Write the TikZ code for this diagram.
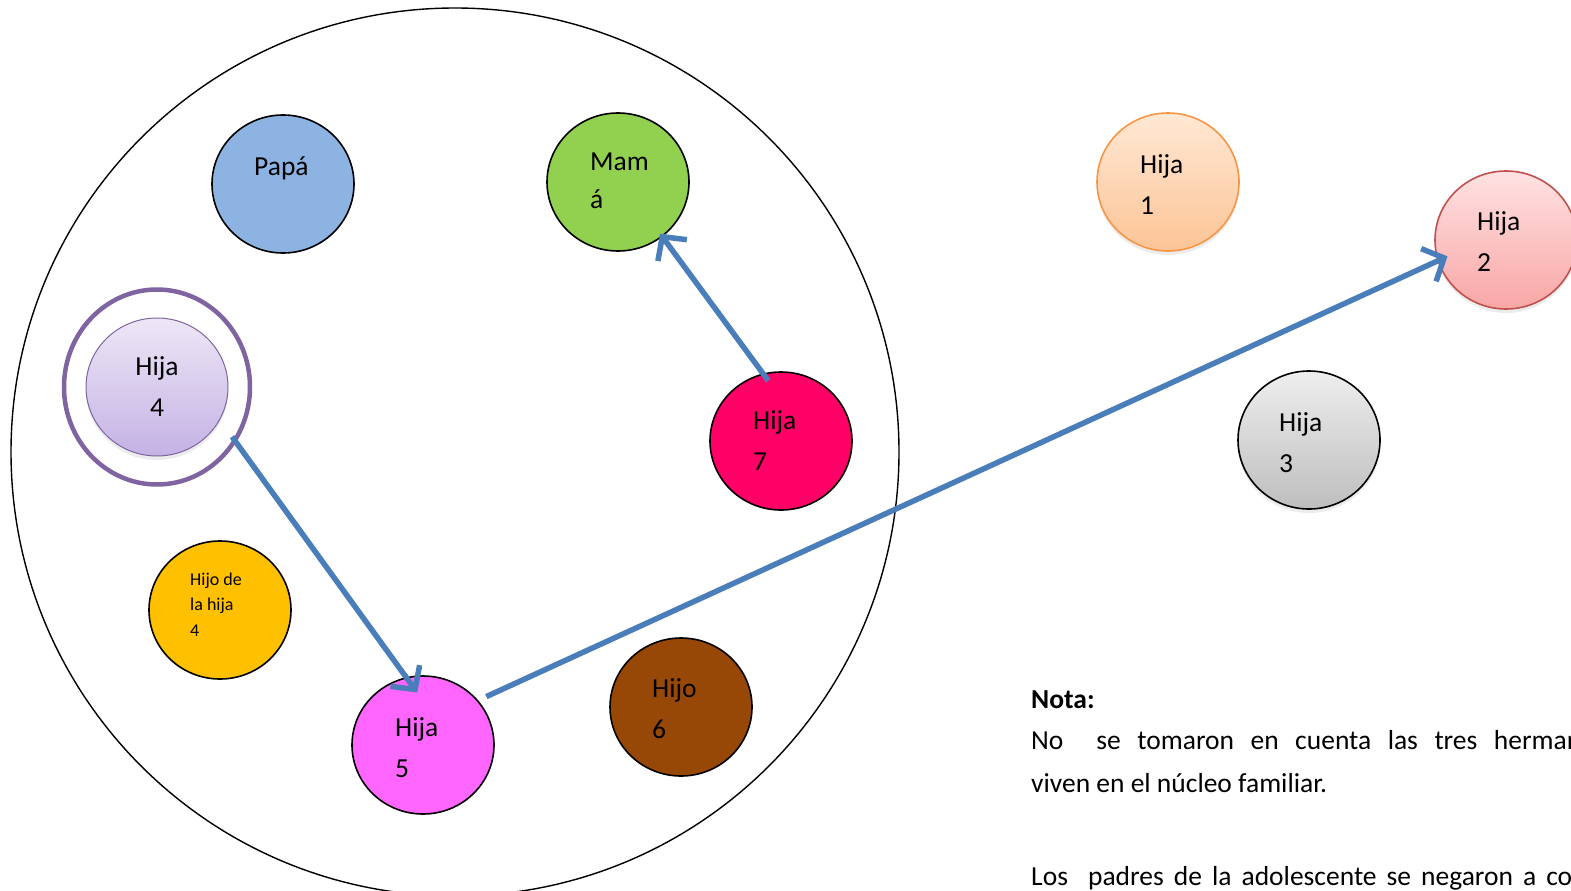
\documentclass[tikz,border=0pt]{standalone}
\usepackage{fontspec}
\setmainfont{Carlito}
\usetikzlibrary{shapes.geometric,arrows.meta,shadows}
\tikzset{
  person/.style={
    ellipse,
    draw=black,
    line width=1.6pt,
    minimum width=142pt,
    minimum height=138pt,
    inner sep=0pt
  },
  person-soft/.style={
    person,
    drop shadow={shadow xshift=0pt,shadow yshift=-4pt,opacity=0.15}
  },
  tag/.style={
    anchor=base west,
    inner sep=0pt,
    align=left,
    font=\fontsize{27.5}{41}\selectfont
  },
  tag-small/.style={
    tag,
    font=\fontsize{18}{25.5}\selectfont
  },
  link/.style={
    draw=linkblue,
    line width=5.5pt,
    -{Straight Barb[length=17pt,width=36pt]}
  }
}
\definecolor{linkblue}{RGB}{74,126,187}
\definecolor{papablue}{RGB}{141,179,226}
\definecolor{mamagreen}{RGB}{146,208,80}
\definecolor{rose}{RGB}{255,0,102}
\definecolor{amber}{RGB}{255,192,0}
\definecolor{magenta}{RGB}{255,102,255}
\definecolor{brown}{RGB}{152,72,6}
\definecolor{lilac}{RGB}{128,100,162}
\definecolor{lilac-top}{RGB}{237,231,246}
\definecolor{lilac-bot}{RGB}{196,178,228}
\definecolor{peach}{RGB}{247,150,70}
\definecolor{peach-top}{RGB}{255,232,212}
\definecolor{peach-bot}{RGB}{252,196,150}
\definecolor{coral}{RGB}{192,80,77}
\definecolor{coral-top}{RGB}{255,226,226}
\definecolor{coral-bot}{RGB}{249,166,166}
\definecolor{grey-top}{RGB}{238,238,238}
\definecolor{grey-bot}{RGB}{190,190,190}

\begin{document}
\begin{tikzpicture}[x=1pt,y=-1pt]
  \useasboundingbox (0,0) rectangle (1571,891);
  % --- household circle ---
  \node[circle, draw=black, line width=1.4pt, minimum size=888pt, inner sep=0pt] (nucleo) at (455,452) {};

  % --- members living at home ---
  \node[person, fill=papablue] (papa) at (283,184) {};
  \node[person, fill=mamagreen] (mama) at (618,182) {};
  \node[ellipse, draw=lilac, line width=4.5pt, minimum width=186pt, minimum height=195pt] (hija4-ring) at (157,387) {};
  \node[person-soft, draw=lilac, line width=1pt, top color=lilac-top, bottom color=lilac-bot] (hija4) at (157,387) {};
  \node[person, fill=rose] (hija7) at (781,441) {};
  \node[person, fill=amber] (nieto) at (220,610) {};
  \node[person, fill=magenta] (hija5) at (423,745) {};
  \node[person, fill=brown] (hijo6) at (681,707) {};

  % --- sisters outside ---
  \node[person-soft, draw=peach, top color=peach-top, bottom color=peach-bot] (hija1) at (1168,182) {};
  \node[person-soft, draw=coral, top color=coral-top, bottom color=coral-bot] (hija2) at (1506,240) {};
  \node[person-soft, top color=grey-top, bottom color=grey-bot] (hija3) at (1309,440) {};

  % --- names (base = last line) ---
  \node[tag] (papa-txt) at (254,175) {Papá};
  \node[tag, font=\fontsize{27.5}{38}\selectfont] (mama-txt) at (590,208) {Mam\\á};
  \node[tag, anchor=base, align=center] (hija4-txt) at (157,416) {Hija\\4};
  \node[tag] (hija7-txt) at (753,470) {Hija\\7};
  \node[tag-small] (nieto-txt) at (190,636) {Hijo de\\la hija\\4};
  \node[tag] (hija5-txt) at (395,777) {Hija\\5};
  \node[tag] (hijo6-txt) at (652,738) {Hijo\\6};
  \node[tag] (hija1-txt) at (1140,214) {Hija\\1};
  \node[tag] (hija2-txt) at (1477,271) {Hija\\2};
  \node[tag] (hija3-txt) at (1279,472) {Hija\\3};

  % --- relations ---
  \draw[link, shorten <=-9pt, shorten >=-4pt] (hija7.105) -- (mama.-51);
  \draw[link, shorten <=-7pt, shorten >=-19pt] (hija4-ring.-35) -- (hija5.104);
  \draw[link, shorten <=9pt, shorten >=-11pt] (hija5.39) -- (hija2.197);

  % --- note ---
  \node[tag, font=\fontsize{27.5}{41}\selectfont\bfseries] (nota) at (1031,708) {Nota:};
  \node[tag, font=\fontsize{27.5}{43}\selectfont] (nota-p1) at (1031,792) {\makebox[550pt][s]{No\ \ se tomaron en cuenta las tres herman}\\viven en el núcleo familiar.};
  \node[tag] (nota-p2) at (1031,885) {\makebox[541pt][s]{Los\ \ padres de la adolescente se negaron a co}};
\end{tikzpicture}
\end{document}
